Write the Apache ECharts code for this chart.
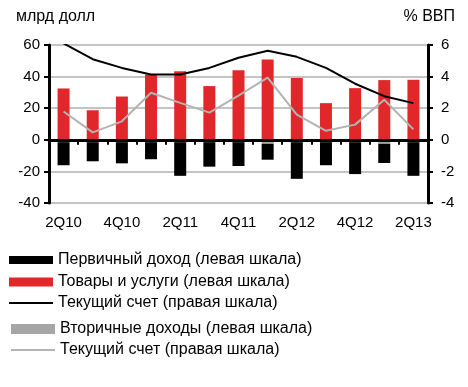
<!DOCTYPE html>
<html><head><meta charset="utf-8">
<script src="https://cdn.jsdelivr.net/npm/echarts@6/dist/echarts.min.js"></script>
<style>html,body{margin:0;padding:0;background:#fff}#c{width:468px;height:387px}</style>
</head><body><div id="c"></div>
<script>
const categories = ['2Q10','3Q10','4Q10','1Q11','2Q11','3Q11','4Q11','1Q12','2Q12','3Q12','4Q12','1Q13','2Q13'];
const goodsServices = [32.5,18.7,27.4,41.3,43.4,34,44,50.9,39.1,23.2,32.7,37.8,38];
const secondaryIncome = [-1.5,-1.5,-1.5,-1.5,-1.5,-1.5,-1.5,-2.5,-1.5,-1.5,-1.5,-2.5,-1.5];
const primaryIncome = [-14.6,-12.1,-13.4,-10.8,-21.3,-15.5,-15.1,-10.1,-23.2,-14.6,-20.2,-12.2,-21.3];
const currentAccount1 = [6.1,5.1,4.55,4.13,4.13,4.55,5.19,5.64,5.25,4.55,3.55,2.76,2.32];
const currentAccount2 = [1.79,0.47,1.17,2.98,2.34,1.72,2.8,3.94,1.6,0.57,0.96,2.53,0.66];
const leftTicks = {min:-40,max:60,interval:20};
const rightTicks = {min:-4,max:6,interval:2};

const N1 = 'Первичный доход (левая шкала)';
const N2 = 'Товары и услуги (левая шкала)';
const N3 = 'Текущий счет (правая шкала)';
const N4 = 'Вторичные доходы (левая шкала)';
const N5 = 'Текущий счет (правая шкала)\u200b';

const FONT = 'Liberation Sans, Arial, sans-serif';
const RED = '#e2272b', BLACK = '#000000', GRAYBAR = '#a6a6a6', GRAYLINE = '#b3b3b3';

function lg(name, top, h, left){
  return {data:[name], left:left, top:top, orient:'vertical', padding:0, icon:'rect',
    itemWidth:44, itemHeight:h, selectedMode:false,
    formatter: n => n.replace('\u200b',''),
    textStyle:{fontFamily:FONT,fontSize:16,color:'#000',lineHeight:18}};
}

const chart = echarts.init(document.getElementById('c'), null, {renderer:'canvas'});
chart.setOption({
  animation:false,
  textStyle:{fontFamily:FONT},
  title:[
    {text:'млрд долл', left:16, top:9, padding:0, textStyle:{fontFamily:FONT,fontSize:16,fontWeight:'normal',color:'#000'}},
    {text:'% ВВП', right:13, top:9, padding:0, textStyle:{fontFamily:FONT,fontSize:16,fontWeight:'normal',color:'#000'}}
  ],
  legend:[ lg(N1,251,8,9), lg(N2,273,9,9), lg(N3,294,2,9), lg(N4,320,10,11), lg(N5,341,2,11) ],
  grid:{left:49,right:40,top:45,height:158,containLabel:false},
  xAxis:[
    {type:'category',data:categories,boundaryGap:true,z:5,
     axisLine:{onZero:true,lineStyle:{color:'#000',width:3}},
     axisTick:{show:true,interval:0,length:5,lineStyle:{color:'#000',width:2}},
     axisLabel:{show:false}},
    {type:'category',data:categories,boundaryGap:true,position:'bottom',
     axisLine:{show:false,onZero:false},axisTick:{show:false},
     axisLabel:{interval:1,margin:12,color:'#000',fontFamily:FONT,fontSize:15}}
  ],
  yAxis:[
    {type:'value',min:leftTicks.min,max:leftTicks.max,interval:leftTicks.interval,position:'left',
     axisLine:{show:true,lineStyle:{color:'#000',width:3}},
     axisTick:{show:true,length:5,lineStyle:{color:'#000',width:2}},
     axisLabel:{color:'#000',fontFamily:FONT,fontSize:15,margin:9},
     splitLine:{show:true,lineStyle:{color:'#c4c4c4',width:2}}},
    {type:'value',min:rightTicks.min,max:rightTicks.max,interval:rightTicks.interval,position:'right',
     axisLine:{show:true,lineStyle:{color:'#000',width:3}},
     axisTick:{show:true,length:5,lineStyle:{color:'#000',width:2}},
     axisLabel:{color:'#000',fontFamily:FONT,fontSize:15,margin:13},
     splitLine:{show:false}}
  ],
  series:[
    {name:N2,type:'bar',stack:'a',data:goodsServices,barWidth:12,itemStyle:{color:RED},color:RED},
    {name:N4,type:'bar',stack:'a',data:secondaryIncome,barWidth:12,itemStyle:{color:GRAYBAR},color:GRAYBAR},
    {name:N1,type:'bar',stack:'a',data:primaryIncome,barWidth:12,itemStyle:{color:BLACK},color:BLACK},
    {name:N3,type:'line',yAxisIndex:1,data:currentAccount1,showSymbol:false,symbol:'none',clip:true,z:4,
     lineStyle:{color:BLACK,width:2},itemStyle:{color:BLACK},color:BLACK},
    {name:N5,type:'line',yAxisIndex:1,data:currentAccount2,showSymbol:false,symbol:'none',clip:true,z:4,
     lineStyle:{color:GRAYLINE,width:2},itemStyle:{color:GRAYLINE},color:GRAYLINE}
  ]
});
</script>
</body></html>
